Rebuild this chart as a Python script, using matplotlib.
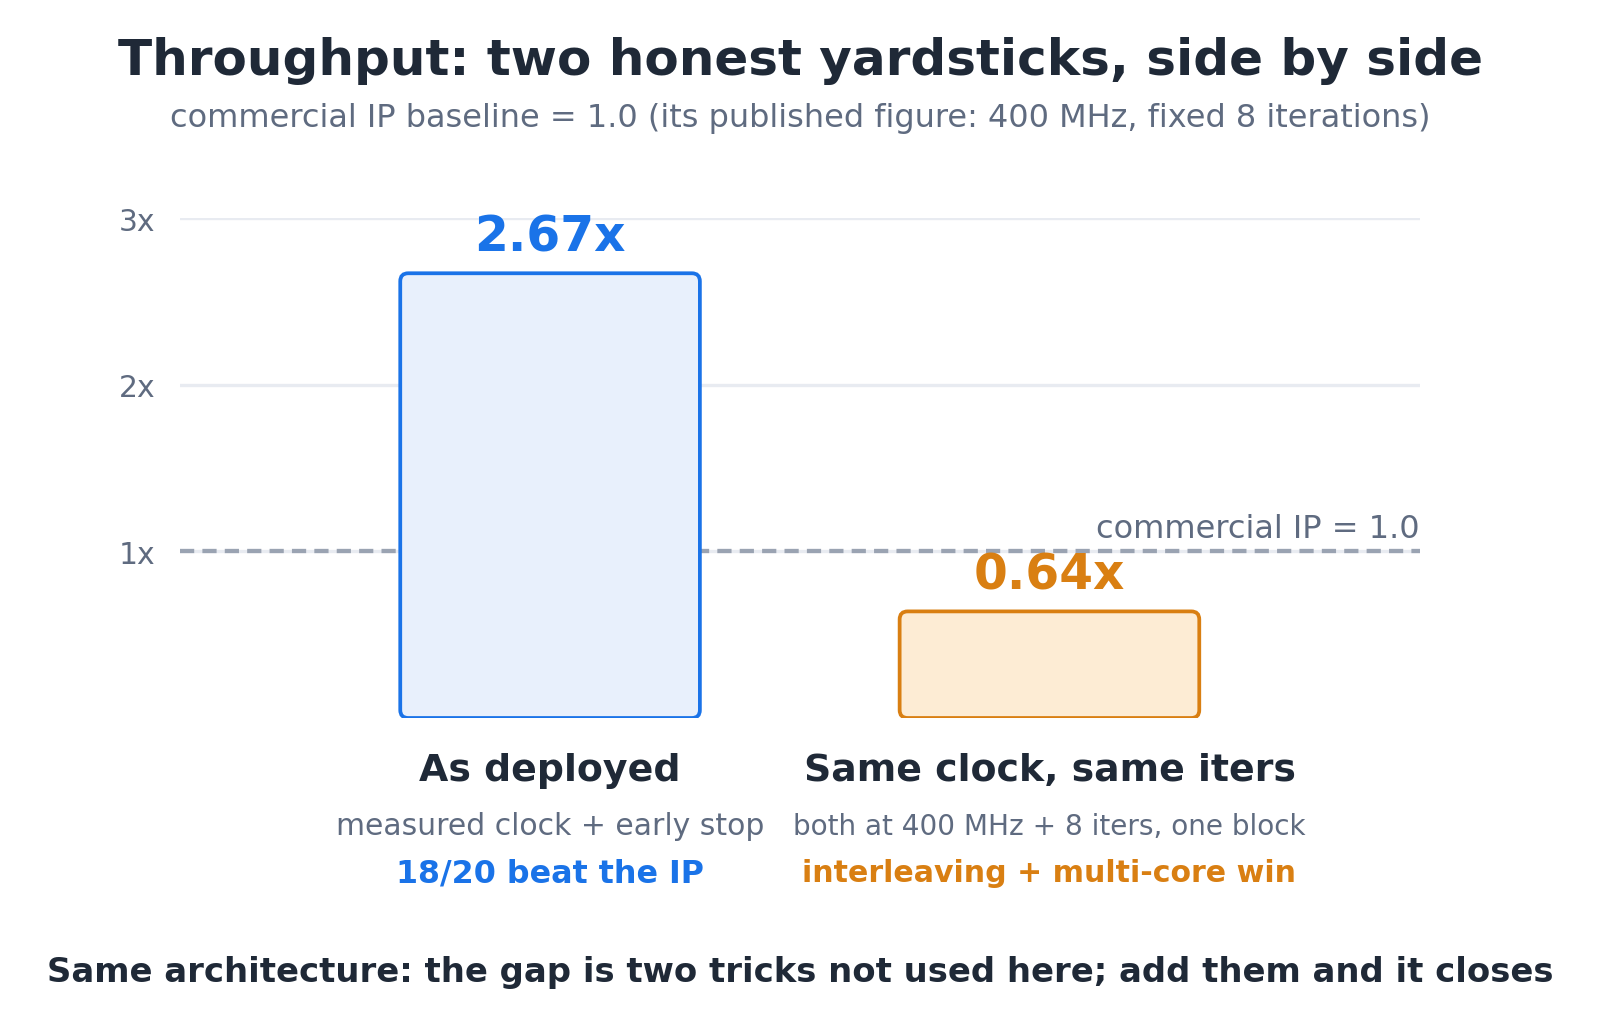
import matplotlib
matplotlib.use('Agg')
import matplotlib.pyplot as plt
from matplotlib.patches import FancyBboxPatch

# data
categories = ['As deployed', 'Same clock, same iters']
speedups = [2.67, 0.64]
value_labels = ['2.67x', '0.64x']
details = ['measured clock + early stop', 'both at 400 MHz + 8 iters, one block']
notes = ['18/20 beat the IP', 'interleaving + multi-core win']
yticks = [1, 2, 3]
ytick_labels = ['1x', '2x', '3x']
baseline = 1.0

edge_colors = ['#1a73e8', '#d97f12']
fill_colors = ['#e8f0fc', '#fdecd4']
dark = '#1f2937'
gray = '#5f6b80'

fig = plt.figure(figsize=(16, 10.2), dpi=100)
ax = fig.add_axes([0.1122, 0.2951, 0.7753, 0.4899])

x = list(range(len(categories)))
bars = ax.bar(x, speedups, width=0.6, color='none', edgecolor='none')

ax.set_xlim(-0.742, 1.742)
ax.set_ylim(0, 3)

# swap plain bars for rounded boxes
fig.canvas.draw()
px_x = ax.transData.transform((1, 0))[0] - ax.transData.transform((0, 0))[0]
px_y = ax.transData.transform((0, 1))[1] - ax.transData.transform((0, 0))[1]
rad = 8 / px_x
for b, ec, fc in zip(bars, edge_colors, fill_colors):
    b.set_visible(False)
    patch = FancyBboxPatch((b.get_x(), b.get_y()), b.get_width(), b.get_height(),
                           boxstyle=f'round,pad=0,rounding_size={rad}',
                           mutation_aspect=px_x / px_y,
                           facecolor=fc, edgecolor=ec, linewidth=2.7, zorder=3)
    ax.add_patch(patch)

for xi, v, lab, c in zip(x, speedups, value_labels, edge_colors):
    ax.text(xi, v + 0.135, lab, ha='center', va='baseline', fontsize=35,
            fontweight='bold', color=c, zorder=4)

# grid and baseline
for t in yticks:
    ax.axhline(t, color='#e8ebf1', linewidth=2.4, zorder=1)
ax.axhline(baseline, color='#9aa3b2', linewidth=3.1, linestyle=(0, (3.3, 1.9)), zorder=2)
ax.text(1.742, baseline + 0.084, 'commercial IP = 1.0', ha='right', va='baseline',
        fontsize=23, color=gray)

ax.set_yticks(yticks)
ax.set_yticklabels(ytick_labels, fontsize=21.5, color=gray)
ax.tick_params(axis='y', length=0, pad=17.5)
ax.set_xticks([])
for s in ax.spines.values():
    s.set_visible(False)

det_sizes = [21.5, 20.1]
note_sizes = [22.9, 21.6]
for xi, cat, det, note, c in zip(x, categories, details, notes, edge_colors):
    ax.text(xi, -0.312, cat, ha='center', va='center', fontsize=27.3,
            fontweight='bold', color=dark)
    ax.text(xi, -0.646, det, ha='center', va='center', fontsize=det_sizes[xi], color=gray)
    ax.text(xi, -0.928, note, ha='center', va='center', fontsize=note_sizes[xi],
            fontweight='bold', color=c)

fig.text(0.5, 1 - 61 / 1020, 'Throughput: two honest yardsticks, side by side',
         ha='center', va='center', fontsize=36, fontweight='bold', color=dark)
fig.text(0.5, 1 - 119 / 1020,
         'commercial IP baseline = 1.0 (its published figure: 400 MHz, fixed 8 iterations)',
         ha='center', va='center', fontsize=23, color=gray)
fig.text(0.5, 1 - 972.5 / 1020,
         'Same architecture: the gap is two tricks not used here; add them and it closes',
         ha='center', va='center', fontsize=24.4, fontweight='bold', color=dark)

fig.savefig('out.png', dpi=100)
